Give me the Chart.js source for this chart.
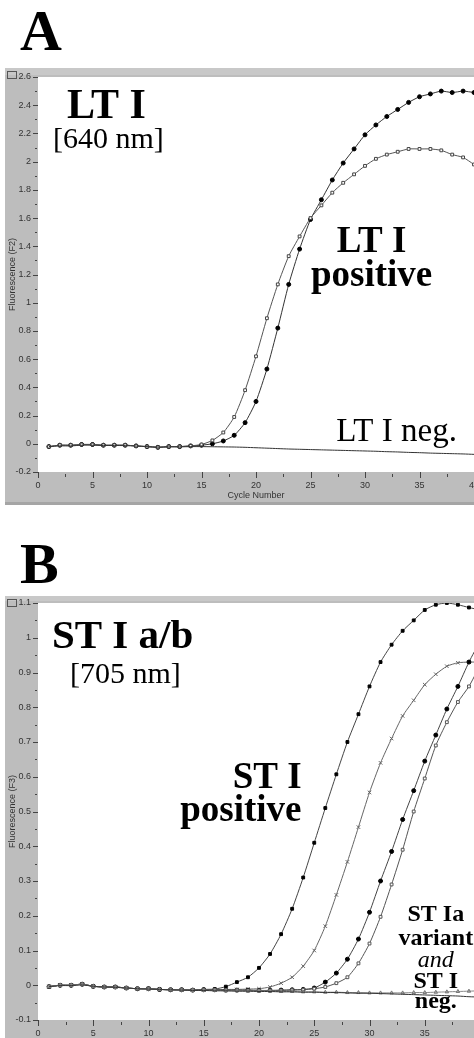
<!DOCTYPE html>
<html>
<head>
<meta charset="utf-8">
<script src="https://cdn.jsdelivr.net/npm/chart.js@4.4.0/dist/chart.umd.min.js"></script>
<style>
  html, body { margin: 0; padding: 0; background: #fff; overflow: hidden; width: 474px; height: 1038px; }
  canvas { position: absolute; left: 0; }
  #chartA { top: 0; }
  #chartB { top: 520px; }
</style>
</head>
<body>
<canvas id="chartA" width="479" height="510"></canvas>
<canvas id="chartB" width="485" height="540"></canvas>
<script>
// cycle numbers (x)
const cycles = [1,2,3,4,5,6,7,8,9,10,11,12,13,14,15,16,17,18,19,20,
                21,22,23,24,25,26,27,28,29,30,31,32,33,34,35,36,37,38,39,40];
const xTicks = [0, 5, 10, 15, 20, 25, 30, 35, 40];

// panel A - LT I [640 nm], Fluorescence F2
const yTicksA = [-0.2, 0, 0.2, 0.4, 0.6, 0.8, 1, 1.2, 1.4, 1.6, 1.8, 2, 2.2, 2.4, 2.6];
const ltPosCircle = [-0.02,-0.01,-0.01,-0.005,-0.005,-0.01,-0.01,-0.01,-0.015,-0.02,
                     -0.025,-0.02,-0.02,-0.015,-0.01,0.0,0.02,0.06,0.15,0.30,
                     0.53,0.82,1.13,1.38,1.59,1.73,1.87,1.99,2.09,2.19,
                     2.26,2.32,2.37,2.42,2.46,2.48,2.50,2.49,2.50,2.49];
const ltPosSquare = [-0.02,-0.01,-0.01,-0.005,-0.005,-0.01,-0.01,-0.01,-0.015,-0.02,
                     -0.025,-0.02,-0.02,-0.015,-0.005,0.024,0.08,0.19,0.38,0.62,
                     0.89,1.13,1.33,1.47,1.60,1.69,1.78,1.85,1.91,1.97,
                     2.02,2.05,2.07,2.09,2.09,2.09,2.08,2.05,2.03,1.98];
const ltNeg = [-0.02,-0.015,-0.015,-0.01,-0.01,-0.012,-0.012,-0.013,-0.016,-0.02,
               -0.024,-0.022,-0.022,-0.02,-0.02,-0.021,-0.022,-0.023,-0.025,-0.028,
               -0.031,-0.034,-0.037,-0.039,-0.041,-0.043,-0.045,-0.047,-0.049,-0.051,
               -0.053,-0.056,-0.058,-0.061,-0.063,-0.066,-0.068,-0.07,-0.072,-0.075];

// panel B - ST I a/b [705 nm], Fluorescence F3
const yTicksB = [-0.1, 0, 0.1, 0.2, 0.3, 0.4, 0.5, 0.6, 0.7, 0.8, 0.9, 1, 1.1];
const stPos1 = [-0.004,0,0,0.003,-0.003,-0.005,-0.005,-0.008,-0.01,-0.01,
                -0.012,-0.013,-0.013,-0.014,-0.012,-0.011,-0.004,0.009,0.023,0.05,
                0.09,0.147,0.22,0.31,0.41,0.51,0.607,0.70,0.78,0.86,
                0.93,0.98,1.02,1.05,1.08,1.095,1.10,1.095,1.087,1.08];
const stPos2 = [-0.004,0,0,0.003,-0.003,-0.005,-0.005,-0.008,-0.01,-0.01,
                -0.012,-0.013,-0.013,-0.014,-0.013,-0.013,-0.012,-0.012,-0.011,-0.01,
                -0.005,0.006,0.023,0.055,0.10,0.17,0.26,0.355,0.455,0.555,
                0.64,0.71,0.775,0.82,0.865,0.895,0.918,0.928,0.93,0.93];
const stPos3 = [-0.004,0,0,0.003,-0.003,-0.005,-0.005,-0.008,-0.01,-0.01,
                -0.012,-0.013,-0.013,-0.014,-0.013,-0.013,-0.014,-0.014,-0.014,-0.015,
                -0.015,-0.014,-0.013,-0.012,-0.008,0.009,0.035,0.075,0.133,0.21,
                0.30,0.385,0.477,0.56,0.645,0.72,0.795,0.86,0.93,0.99];
const stPos4 = [-0.004,0,0,0.003,-0.003,-0.005,-0.005,-0.008,-0.01,-0.01,
                -0.012,-0.013,-0.013,-0.014,-0.013,-0.013,-0.014,-0.014,-0.015,-0.015,
                -0.015,-0.015,-0.014,-0.013,-0.01,-0.005,0.006,0.023,0.063,0.12,
                0.197,0.29,0.39,0.50,0.595,0.69,0.757,0.815,0.86,0.92];
const stVariant = [-0.004,0,0,0.002,-0.003,-0.005,-0.006,-0.008,-0.01,-0.011,
                   -0.012,-0.013,-0.014,-0.015,-0.015,-0.015,-0.016,-0.016,-0.017,-0.017,
                   -0.017,-0.018,-0.018,-0.019,-0.019,-0.02,-0.02,-0.021,-0.021,-0.022,
                   -0.022,-0.022,-0.022,-0.021,-0.021,-0.02,-0.019,-0.018,-0.017,-0.016];
const stNeg = [-0.004,-0.001,-0.001,0.001,-0.003,-0.005,-0.006,-0.008,-0.01,-0.011,
               -0.012,-0.013,-0.014,-0.015,-0.015,-0.016,-0.016,-0.017,-0.017,-0.018,
               -0.018,-0.019,-0.019,-0.02,-0.02,-0.021,-0.021,-0.022,-0.023,-0.023,
               -0.024,-0.025,-0.026,-0.027,-0.028,-0.029,-0.03,-0.031,-0.033,-0.034];

const SERIF = '"Liberation Serif", "Times New Roman", serif';
const SANS = '"Liberation Sans", Arial, sans-serif';

const pts = vals => vals.map((v, i) => ({ x: cycles[i], y: v }));

// grey frame, tick marks, panel letter and labels
const panelPlugin = {
  id: 'panel',
  beforeDraw(chart, args, opts) {
    const { ctx, chartArea: a } = chart;
    const w = chart.width;
    const top = a.top - opts.bar;
    const bottom = a.bottom + 33;
    ctx.save();
    ctx.fillStyle = '#bdbdbd';
    ctx.fillRect(5, top, w - 5, bottom - top);
    ctx.fillStyle = '#c8c8c8';
    ctx.fillRect(5, top, w - 5, opts.bar - 2);
    ctx.fillStyle = '#a5a5a5';
    ctx.fillRect(5, bottom - 3, w - 5, 3);
    ctx.fillStyle = '#fff';
    ctx.fillRect(a.left, a.top, a.right - a.left, a.bottom - a.top);
    // little window icon in the corner
    ctx.strokeStyle = '#555';
    ctx.strokeRect(7.5, top + 3.5, 9, 7);
    ctx.restore();
  },
  afterDraw(chart, args, opts) {
    const { ctx, chartArea: a, scales: { x, y } } = chart;
    ctx.save();
    ctx.strokeStyle = '#444';
    ctx.lineWidth = 1;
    ctx.beginPath();
    const yt = opts.yTicks;
    yt.forEach((v, i) => {
      const py = Math.round(y.getPixelForValue(v)) + 0.5;
      ctx.moveTo(a.left - 5, py); ctx.lineTo(a.left, py);
      if (i < yt.length - 1) {
        const pm = Math.round(y.getPixelForValue((v + yt[i + 1]) / 2)) + 0.5;
        ctx.moveTo(a.left - 3, pm); ctx.lineTo(a.left - 1, pm);
      }
    });
    xTicks.forEach((v, i) => {
      const px = Math.round(x.getPixelForValue(v)) + 0.5;
      ctx.moveTo(px, a.bottom); ctx.lineTo(px, a.bottom + 6);
      if (i < xTicks.length - 1) {
        const pm = Math.round(x.getPixelForValue((v + xTicks[i + 1]) / 2)) + 0.5;
        ctx.moveTo(pm, a.bottom + 2); ctx.lineTo(pm, a.bottom + 5);
      }
    });
    ctx.stroke();

    ctx.fillStyle = '#000';
    ctx.textBaseline = 'alphabetic';
    ctx.textAlign = 'left';
    ctx.font = opts.letterFont;
    ctx.fillText(opts.letter, 20, opts.letterY);
    opts.notes.forEach(n => {
      ctx.font = n.font;
      ctx.textAlign = n.align;
      ctx.fillText(n.text, x.getPixelForValue(n.x), y.getPixelForValue(n.y));
    });
    ctx.restore();
  }
};

function makePanel(id, datasets, yTicks, yTitle, padTop, padBottom, bar, letter, letterY, notes) {
  return new Chart(document.getElementById(id), {
    type: 'line',
    data: { datasets },
    options: {
      responsive: false,
      animation: false,
      events: [],
      layout: { padding: { top: padTop, left: 5, right: 4, bottom: padBottom } },
      elements: { line: { borderWidth: 1, tension: 0.2 } },
      plugins: {
        legend: { display: false },
        tooltip: { enabled: false },
        panel: { bar, letter, letterY, letterFont: 'bold 58px ' + SERIF, yTicks, notes }
      },
      scales: {
        x: {
          type: 'linear', min: 0, max: 40,
          afterFit: s => { s.height = 33; s.paddingLeft = 0; s.paddingRight = 0; },
          afterBuildTicks: s => { s.ticks = xTicks.map(v => ({ value: v })); },
          grid: { display: false, drawTicks: false },
          border: { display: false },
          ticks: { padding: 8, maxRotation: 0, font: { family: SANS, size: 9 }, color: '#333' },
          title: { display: true, text: 'Cycle Number', padding: { top: 0, bottom: 4 },
                   font: { family: SANS, size: 9 }, color: '#333' }
        },
        y: {
          min: yTicks[0], max: yTicks[yTicks.length - 1],
          afterFit: s => { s.width = 33; s.paddingTop = 0; s.paddingBottom = 0; },
          afterBuildTicks: s => { s.ticks = yTicks.map(v => ({ value: v })); },
          grid: { display: false, drawTicks: false },
          border: { display: false },
          ticks: { padding: 7, font: { family: SANS, size: 9 }, color: '#333',
                   callback: v => String(Math.round(v * 10) / 10) },
          title: { display: true, text: yTitle, padding: { top: 2, bottom: 0 },
                   font: { family: SANS, size: 9 }, color: '#333' }
        }
      }
    },
    plugins: [panelPlugin]
  });
}

makePanel('chartA', [
  { data: pts(ltNeg), borderColor: '#333', pointRadius: 0 },
  { data: pts(ltPosSquare), borderColor: '#555', pointStyle: 'rect', pointRadius: 2,
    pointBackgroundColor: '#fff', pointBorderColor: '#444', pointBorderWidth: 1 },
  { data: pts(ltPosCircle), borderColor: '#333', pointStyle: 'circle', pointRadius: 2,
    pointBackgroundColor: '#000', pointBorderColor: '#000' }
], yTicksA, 'Fluorescence (F2)', 77, 5, 9, 'A', 50, [
  { text: 'LT I', x: 2.65, y: 2.31, font: 'bold 42px ' + SERIF, align: 'left' },
  { text: '[640 nm]', x: 1.37, y: 2.094, font: '30px ' + SERIF, align: 'left' },
  { text: 'LT I', x: 30.6, y: 1.356, font: 'bold 37px ' + SERIF, align: 'center' },
  { text: 'positive', x: 30.6, y: 1.122, font: 'bold 37px ' + SERIF, align: 'center' },
  { text: 'LT I neg.', x: 27.36, y: 0.023, font: '33px ' + SERIF, align: 'left' }
]);

makePanel('chartB', [
  { data: pts(stNeg), borderColor: '#333', pointRadius: 0 },
  { data: pts(stVariant), borderColor: '#888', pointStyle: 'triangle', pointRadius: 2,
    pointBackgroundColor: '#aaa', pointBorderColor: '#777' },
  { data: pts(stPos4), borderColor: '#555', pointStyle: 'rect', pointRadius: 2,
    pointBackgroundColor: '#fff', pointBorderColor: '#555', pointBorderWidth: 1 },
  { data: pts(stPos3), borderColor: '#444', pointStyle: 'circle', pointRadius: 2,
    pointBackgroundColor: '#000', pointBorderColor: '#000' },
  { data: pts(stPos2), borderColor: '#666', pointStyle: 'crossRot', pointRadius: 2.5,
    pointBorderColor: '#666', pointBorderWidth: 1 },
  { data: pts(stPos1), borderColor: '#444', pointStyle: 'rect', pointRadius: 2,
    pointBackgroundColor: '#000', pointBorderColor: '#000' }
], yTicksB, 'Fluorescence (F3)', 83, 7, 7, 'B', 63, [
  { text: 'ST I a/b', x: 1.26, y: 0.970, font: 'bold 41px ' + SERIF, align: 'left' },
  { text: '[705 nm]', x: 2.89, y: 0.870, font: '30px ' + SERIF, align: 'left' },
  { text: 'ST I', x: 23.85, y: 0.568, font: 'bold 37px ' + SERIF, align: 'right' },
  { text: 'positive', x: 23.85, y: 0.473, font: 'bold 37px ' + SERIF, align: 'right' },
  { text: 'ST Ia', x: 36.0, y: 0.185, font: 'bold 24px ' + SERIF, align: 'center' },
  { text: 'variant', x: 36.0, y: 0.116, font: 'bold 24px ' + SERIF, align: 'center' },
  { text: 'and', x: 36.0, y: 0.053, font: 'italic 24px ' + SERIF, align: 'center' },
  { text: 'ST I', x: 36.0, y: -0.008, font: 'bold 24px ' + SERIF, align: 'center' },
  { text: 'neg.', x: 36.0, y: -0.065, font: 'bold 24px ' + SERIF, align: 'center' }
]);
</script>
</body>
</html>
